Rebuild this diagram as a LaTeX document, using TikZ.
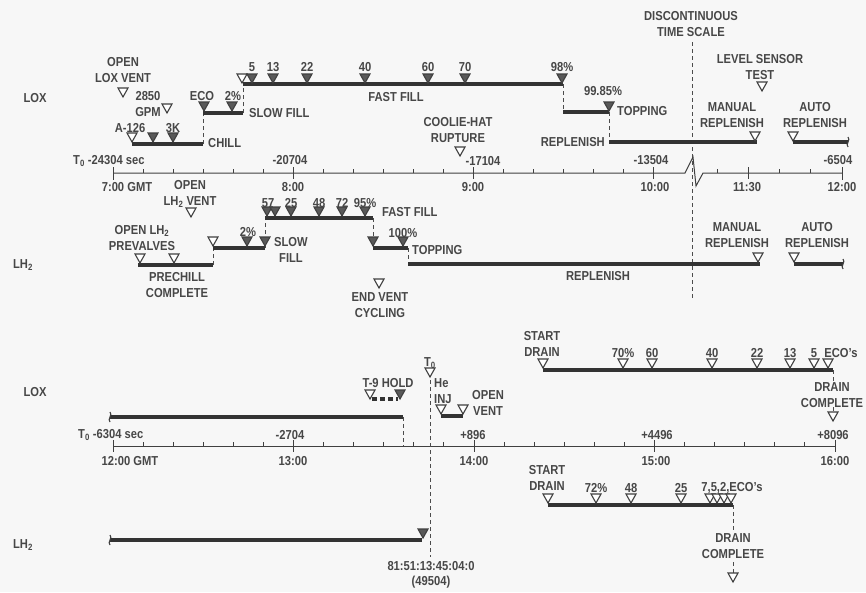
\documentclass[tikz,border=0pt]{standalone}
\usepackage{fontspec}
\setmainfont{Liberation Sans}[FakeStretch=0.86]
\usetikzlibrary{arrows.meta, positioning}

\tikzset{
  lbl/.style={font=\fontsize{13}{15.5}\selectfont\bfseries, inner sep=0pt, align=center, text=black!72},
  proc/.style={line width=3.2pt, draw=black!80},
  axis/.style={line width=1pt, draw=black!75},
  vdash/.style={line width=0.9pt, draw=black!70, dash pattern=on 4pt off 3pt},
  otri/.pic={\draw[line width=1.1pt, black!75, fill=white] (-5,-9) -- (5,-9) -- (0,0) -- cycle;},
  ftri/.pic={\draw[line width=1.1pt, black!75, fill=black!65] (-5,-9) -- (5,-9) -- (0,0) -- cycle;},
  brk/.pic={\draw[line width=1.1pt, black!75] (0,-5) .. controls (3,-2) and (-3,2) .. (0,5);}
}

\begin{document}
\begin{tikzpicture}[x=1pt, y=-1pt]
    \fill[black!3] (0,0) rectangle (866,592);
    \useasboundingbox (0,0) rectangle (866,592);

    % discontinuity marker
    \node[lbl] (disc) at (691,24) {DISCONTINUOUS\\TIME SCALE};
    \coordinate (discT) at (692,42);
    \coordinate (discB) at (692,300);
    \draw[vdash] (discT) -- (discB);

    % ================= upper time scale =================
    \draw[axis] (113,173) coordinate (ua0) -- (685,173) -- (693,157) -- (696,186) -- (703,173) -- (842,173) coordinate (ua1);
    \draw[axis] (113,167) -- (113,180);
    \draw[axis] (842,167) -- (842,180);
    \foreach \k in {1,...,18} {\draw[axis] (113+30*\k,173) -- ++(0,-4);}
    \foreach \xx in {717,779,810} {\draw[axis] (\xx,173) -- ++(0,-4);}
    \foreach \xx in {293,473,653,748} {\draw[axis] (\xx,167) -- (\xx,179);}
    \node[lbl, anchor=west] (t0u) at (73,161) {T\textsubscript{0} -24304 sec};
    \node[lbl] (su1) at (290,160) {-20704};
    \node[lbl] (su2) at (483,161) {-17104};
    \node[lbl] (su3) at (651,160) {-13504};
    \node[lbl] (su4) at (838,160) {-6504};
    \node[lbl] (gu0) at (127,187) {7:00 GMT};
    \node[lbl] (gu1) at (293,187) {8:00};
    \node[lbl] (gu2) at (473,187) {9:00};
    \node[lbl] (gu3) at (655,187) {10:00};
    \node[lbl] (gu4) at (747,187) {11:30};
    \node[lbl] (gu5) at (842,187) {12:00};

    % ================= LOX, first part =================
    \node[lbl] (loxU) at (35,98) {LOX};
    \node[lbl] (openlox) at (123,70) {OPEN\\LOX VENT};
    \pic at (123,97) {otri};
    \node[lbl] (gpm) at (148,104) {2850\\GPM};
    \pic at (167,113) {otri};
    \node[lbl] (a126) at (130,128) {A-126};
    \node[lbl] (k3) at (173,128) {3K};
    \coordinate (chS) at (132,144);
    \coordinate (chE) at (203,144);
    \coordinate (sfS) at (203,113);
    \coordinate (sfE) at (243,113);
    \coordinate (ffS) at (243,84);
    \coordinate (ffE) at (563,84);
    \coordinate (tpS) at (563,112);
    \coordinate (tpE) at (609,112);
    \coordinate (rpS) at (609,142);
    \coordinate (rpE) at (757,142);
    \draw[proc] (chS) -- (chE);
    \draw[vdash] (chE) -- (sfS);
    \draw[proc] (sfS) -- (sfE);
    \draw[vdash] (sfE) -- (ffS);
    \draw[proc] (ffS) -- (ffE);
    \draw[vdash] (ffE) -- (tpS);
    \draw[proc] (tpS) -- (tpE);
    \draw[vdash] (tpE) -- (rpS);
    \draw[proc] (rpS) -- (rpE);
    \pic at (132,142) {otri};
    \pic at (153,142) {ftri};
    \pic at (173,142) {ftri};
    \node[lbl, anchor=west] (chill) at (208,143) {CHILL};
    \node[lbl] (eco) at (202,96) {ECO};
    \node[lbl] (p2) at (233,96) {2\%};
    \pic at (204,111) {ftri};
    \pic at (232,111) {ftri};
    \node[lbl, anchor=west] (slowfill) at (249,113) {SLOW FILL};
    \pic at (242,83) {otri};
    \foreach \xx/\tt in {252/5, 273/13, 307/22, 365/40, 428/60, 465/70, 562/98\%} {
        \pic at (\xx,83) {ftri};
        \node[lbl] at (\xx,67) {\tt};
    }
    \node[lbl] (fastfill) at (396,97) {FAST FILL};
    \pic at (609,111) {ftri};
    \node[lbl] (p9985) at (603,91) {99.85\%};
    \node[lbl, anchor=west] (topping) at (617,111) {TOPPING};
    \node[lbl, anchor=east] (replU) at (605,142) {REPLENISH};
    \node[lbl] (coolie) at (458,130) {COOLIE-HAT\\RUPTURE};
    \pic at (460,156) {otri};
    \node[lbl] (lvl) at (760,67) {LEVEL SENSOR\\TEST};
    \pic at (762,91) {otri};
    \node[lbl] (manU) at (732,115) {MANUAL\\REPLENISH};
    \pic at (755,141) {otri};
    \node[lbl] (autoU) at (815,115) {AUTO\\REPLENISH};
    \pic at (793,141) {otri};
    \draw[proc] (793,142) coordinate (arS) -- (848,142) coordinate (arE);
    \pic at (arE) {brk};

    % ================= LH2, first part =================
    \node[lbl] (lhU) at (23,265) {LH\textsubscript{2}};
    \node[lbl] (openlh) at (190,194) {OPEN\\LH\textsubscript{2} VENT};
    \pic at (191,217) {otri};
    \node[lbl] (prevalves) at (142,238) {OPEN LH\textsubscript{2}\\PREVALVES};
    \node[lbl] (prechill) at (177,285) {PRECHILL\\COMPLETE};
    \coordinate (pcS) at (138,265);
    \coordinate (pcE) at (213,265);
    \coordinate (hsS) at (213,248);
    \coordinate (hsE) at (265,248);
    \coordinate (hfS) at (265,218);
    \coordinate (hfE) at (373,218);
    \coordinate (htS) at (373,248);
    \coordinate (htE) at (408,248);
    \coordinate (hrS) at (408,264);
    \coordinate (hrE) at (760,264);
    \draw[proc] (pcS) -- (pcE);
    \draw[vdash] (pcE) -- (hsS);
    \draw[proc] (hsS) -- (hsE);
    \draw[vdash] (hsE) -- (hfS);
    \draw[proc] (hfS) -- (hfE);
    \draw[vdash] (hfE) -- (htS);
    \draw[proc] (htS) -- (htE);
    \draw[vdash] (htE) -- (hrS);
    \draw[proc] (hrS) -- (hrE);
    \pic at (140,263) {otri};
    \pic at (174,263) {otri};
    \pic at (213,246) {otri};
    \pic at (247,246) {ftri};
    \pic at (265,246) {ftri};
    \node[lbl] (h2p) at (248,232) {2\%};
    \node[lbl, anchor=west] (hslow) at (274,250) {SLOW\\FILL};
    \pic at (267,216) {ftri};
    \pic at (275,216) {ftri};
    \node[lbl] at (268,203) {57};
    \foreach \xx/\tt in {291/25, 319/48, 342/72, 365/95\%} {
        \pic at (\xx,216) {ftri};
        \node[lbl] at (\xx,203) {\tt};
    }
    \node[lbl, anchor=west] (hfast) at (382,212) {FAST FILL};
    \pic at (373,246) {ftri};
    \pic at (403,246) {ftri};
    \node[lbl] (h100) at (403,233) {100\%};
    \node[lbl, anchor=west] (htop) at (412,250) {TOPPING};
    \node[lbl] (replL) at (598,276) {REPLENISH};
    \node[lbl] (endvent) at (380,305) {END VENT\\CYCLING};
    \pic at (379,288) {otri};
    \node[lbl] (manL) at (737,235) {MANUAL\\REPLENISH};
    \pic at (758,262) {otri};
    \node[lbl] (autoL) at (817,235) {AUTO\\REPLENISH};
    \pic at (794,262) {otri};
    \draw[proc] (794,264) coordinate (harS) -- (843,264) coordinate (harE);
    \pic at (harE) {brk};

    % ================= lower time scale =================
    \draw[axis] (113,446) coordinate (la0) -- (835,446) coordinate (la1);
    \draw[axis] (113,440) -- (113,452);
    \draw[axis] (835,440) -- (835,452);
    \foreach \k in {1,...,23} {\draw[axis] (113+30.083*\k,446) -- ++(0,-4);}
    \foreach \k in {6,12,18} {\draw[axis] (113+30.083*\k,440) -- ++(0,12);}
    \node[lbl, anchor=west] (t0l) at (78,435) {T\textsubscript{0} -6304 sec};
    \node[lbl] (sl1) at (290,435) {-2704};
    \node[lbl] (sl2) at (473,435) {+896};
    \node[lbl] (sl3) at (657,435) {+4496};
    \node[lbl] (sl4) at (833,435) {+8096};
    \node[lbl] (gl0) at (130,461) {12:00 GMT};
    \node[lbl] (gl1) at (293,461) {13:00};
    \node[lbl] (gl2) at (474,461) {14:00};
    \node[lbl] (gl3) at (656,461) {15:00};
    \node[lbl] (gl4) at (835,461) {16:00};

    % ================= LOX, second part =================
    \node[lbl] (loxL) at (35,392) {LOX};
    \coordinate (lxS) at (110,417);
    \coordinate (lxE) at (403,417);
    \draw[proc] (lxS) -- (lxE);
    \pic at (lxS) {brk};
    \draw[vdash] (lxE) -- (403,446);
    \node[lbl] (hold) at (388,383) {T-9 HOLD};
    \draw[proc, dash pattern=on 5pt off 3pt] (372,399) -- (398,399);
    \pic at (370,399) {otri};
    \pic at (400,399) {ftri};
    \node[lbl] (t0) at (430,363) {T\textsubscript{0}};
    \pic at (430,377) {otri};
    \coordinate (t0T) at (430,380);
    \coordinate (t0B) at (430,557);
    \draw[vdash] (t0T) -- (t0B);
    \node[lbl, anchor=west, align=left] (heinj) at (434,391) {He\\INJ};
    \draw[proc] (441,416) coordinate (hiS) -- (463,416) coordinate (hiE);
    \pic at (441,414) {otri};
    \pic at (463,414) {otri};
    \node[lbl] (openvent) at (488,403) {OPEN\\VENT};
    \node[lbl] (drainX) at (542,344) {START\\DRAIN};
    \coordinate (dxS) at (543,370);
    \coordinate (dxE) at (833,370);
    \draw[proc] (dxS) -- (dxE);
    \pic at (543,368) {otri};
    \foreach \xx/\tt in {623/70\%, 652/60, 712/40, 757/22, 790/13, 814/5} {
        \pic at (\xx,368) {otri};
        \node[lbl] at (\xx,353) {\tt};
    }
    \pic at (828,368) {otri};
    \node[lbl] (ecoX) at (841,353) {ECO's};
    \node[lbl] (doneX) at (832,395) {DRAIN\\COMPLETE};
    \draw[vdash] (dxE) -- (833,382);
    \draw[vdash] (833,407) -- (833,413);
    \pic at (833,421) {otri};

    % ================= LH2, second part =================
    \node[lbl] (lhL) at (23,545) {LH\textsubscript{2}};
    \coordinate (lhS) at (110,540);
    \coordinate (lhE) at (422,540);
    \draw[proc] (lhS) -- (lhE);
    \pic at (lhS) {brk};
    \pic at (423,538) {ftri};
    \node[lbl] (met) at (431,575) {81:51:13:45:04:0\\(49504)};
    \node[lbl] (drainH) at (547,478) {START\\DRAIN};
    \coordinate (dhS) at (548,505);
    \coordinate (dhE) at (733,505);
    \draw[proc] (dhS) -- (dhE);
    \pic at (548,503) {otri};
    \foreach \xx/\tt in {596/72\%, 631/48, 681/25} {
        \pic at (\xx,503) {otri};
        \node[lbl] at (\xx,488) {\tt};
    }
    \foreach \xx in {710,717,724,731} {\pic at (\xx,503) {otri};}
    \node[lbl] (ecoH) at (732,488) {7,5,2,ECO's};
    \node[lbl] (doneH) at (733,546) {DRAIN\\COMPLETE};
    \draw[vdash] (dhE) -- (733,530);
    \draw[vdash] (733,562) -- (733,573);
    \pic at (733,582) {otri};
\end{tikzpicture}
\end{document}
